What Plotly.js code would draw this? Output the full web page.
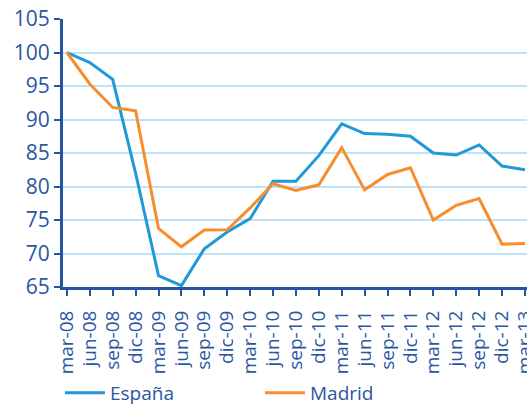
<!DOCTYPE html>
<html>
<head>
<meta charset="utf-8">
<script src="https://cdn.plot.ly/plotly-3.0.1.min.js"></script>
<style>html,body{margin:0;padding:0;background:#fff;}#chart{width:527px;height:405px;}</style>
</head>
<body>
<div id="chart"></div>
<script>
const categories = ["mar-08","jun-08","sep-08","dic-08","mar-09","jun-09","sep-09","dic-09","mar-10","jun-10","sep-10","dic-10","mar-11","jun-11","sep-11","dic-11","mar-12","jun-12","sep-12","dic-12","mar-13"];
const espana = [100, 98.5, 96.0, 82.0, 66.7, 65.2, 70.7, 73.2, 75.2, 80.8, 80.8, 84.6, 89.35, 87.9, 87.8, 87.5, 85.0, 84.7, 86.2, 83.05, 82.5];
const madrid = [100, 95.3, 91.8, 91.3, 73.75, 71.0, 73.5, 73.55, 76.8, 80.4, 79.4, 80.25, 85.8, 79.5, 81.8, 82.8, 75.0, 77.2, 78.2, 71.4, 71.5];
const yTicks = [65, 70, 75, 80, 85, 90, 95, 100, 105];

const textColor = "#2a56a2";
const axisColor = "#2355a3";
const traces = [
  {x: categories, y: espana, name: "España", type: "scatter", mode: "lines",
   line: {color: "#1f9ad6", width: 3}},
  {x: categories, y: madrid, name: "Madrid", type: "scatter", mode: "lines",
   line: {color: "#f78d2d", width: 3}}
];
const layout = {
  width: 527, height: 405,
  margin: {l: 63, r: 0, t: 19, b: 118},
  paper_bgcolor: "#fff", plot_bgcolor: "#fff",
  font: {family: "Open Sans, sans-serif", color: textColor, size: 18},
  showlegend: true,
  legend: {orientation: "h", xref: "container", yref: "container",
           x: 60/527, xanchor: "left", y: 1 - 393/405, yanchor: "middle",
           font: {size: 19, color: textColor}, entrywidth: 145, entrywidthmode: "pixels",
           itemwidth: 40, tracegroupgap: 0, bgcolor: "rgba(0,0,0,0)"},
  xaxis: {type: "category", range: [-0.17, 20.09], showgrid: false, zeroline: false,
          tickmode: "array", tickvals: categories, ticktext: categories,
          showline: true, linecolor: axisColor, linewidth: 3,
          ticks: "outside", ticklen: 6, tickwidth: 2, tickcolor: axisColor,
          ticklabelstandoff: 7,
          tickangle: -90, tickfont: {size: 19, color: textColor}},
  yaxis: {range: [65, 105], tickvals: yTicks, showgrid: true, gridcolor: "#bfe3f6", gridwidth: 2,
          zeroline: false, showline: true, linecolor: axisColor, linewidth: 3,
          ticks: "outside", ticklen: 6, tickwidth: 2, tickcolor: axisColor,
          tickfont: {size: 21, color: textColor}}
};
Plotly.newPlot("chart", traces, layout, {displayModeBar: false, staticPlot: true});
</script>
</body>
</html>
